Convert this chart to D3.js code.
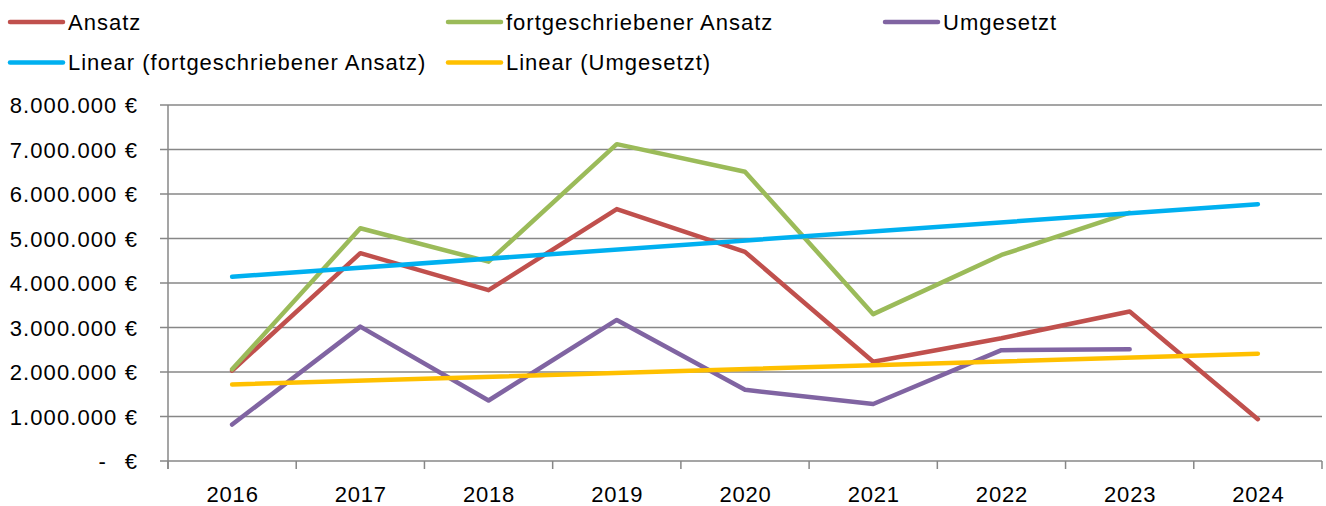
<!DOCTYPE html>
<html>
<head>
<meta charset="utf-8">
<script src="https://cdn.jsdelivr.net/npm/d3@7"></script>
<style>
  body { margin: 0; background: #fff; }
  text { font-family: "Liberation Sans", Arial, sans-serif; fill: #000; }
</style>
</head>
<body>
<svg id="chart"></svg>
<script>
const years = ['2016', '2017', '2018', '2019', '2020', '2021', '2022', '2023', '2024'];
const yTicks = [0, 1000000, 2000000, 3000000, 4000000, 5000000, 6000000, 7000000, 8000000];

const ansatz = [2030000, 4670000, 3840000, 5660000, 4700000, 2230000, 2760000, 3360000, 940000];
const fortgeschrieben = [2060000, 5230000, 4480000, 7120000, 6500000, 3300000, 4630000, 5580000, null];
const umgesetzt = [820000, 3020000, 1360000, 3170000, 1600000, 1280000, 2490000, 2510000, null];
// trendline end values (2016 and 2024)
const trendFort = [4140000, 5770000];
const trendUmg = [1720000, 2410000];

const series = [
    { name: 'Ansatz', color: '#C0504D', values: ansatz },
    { name: 'fortgeschriebener Ansatz', color: '#9BBB59', values: fortgeschrieben },
    { name: 'Umgesetzt', color: '#8064A2', values: umgesetzt }
];
const trends = [
    { name: 'Linear (fortgeschriebener Ansatz)', color: '#00B0F0', values: trendFort },
    { name: 'Linear (Umgesetzt)', color: '#FFC000', values: trendUmg }
];

const width = 1326, height = 506;
const plotLeft = 168, plotRight = 1322, plotTop = 105, plotBottom = 461;

const svg = d3.select('#chart')
    .attr('width', width)
    .attr('height', height);

const x = d3.scaleBand().domain(years).range([plotLeft, plotRight]);
const y = d3.scaleLinear().domain([0, 8000000]).range([plotBottom, plotTop]);
const cx = d => x(d) + x.bandwidth() / 2;

// gridlines + y ticks
svg.append('g')
    .selectAll('line')
    .data(yTicks)
    .enter()
    .append('line')
    .attr('x1', plotLeft - 8)
    .attr('x2', plotRight)
    .attr('y1', d => y(d))
    .attr('y2', d => y(d))
    .attr('stroke', '#878787')
    .attr('stroke-width', 1.5);

// y axis line
svg.append('line')
    .attr('x1', plotLeft).attr('x2', plotLeft)
    .attr('y1', plotTop).attr('y2', plotBottom + 8)
    .attr('stroke', '#878787')
    .attr('stroke-width', 1.5);

// x ticks
const xTickPos = years.map(d => x(d)).concat([plotRight]);
svg.append('g')
    .selectAll('line')
    .data(xTickPos)
    .enter()
    .append('line')
    .attr('x1', d => d).attr('x2', d => d)
    .attr('y1', plotBottom).attr('y2', plotBottom + 8)
    .attr('stroke', '#878787')
    .attr('stroke-width', 1.5);

// y labels
const fmt = d3.formatLocale({ decimal: ',', thousands: '.', grouping: [3], currency: ['', ' €'] }).format(',');
const yLabels = svg.append('g')
    .attr('font-size', '22px')
    .attr('letter-spacing', '1.1px')
    .attr('text-anchor', 'end');
yTicks.forEach(t => {
    if (t === 0) {
        yLabels.append('text').attr('x', 138).attr('y', y(t) + 8).text('€');
        yLabels.append('text').attr('x', 107).attr('y', y(t) + 8).text('-');
    } else {
        yLabels.append('text').attr('x', 138).attr('y', y(t) + 8).text(fmt(t) + ' €');
    }
});

// x labels
svg.append('g')
    .selectAll('text')
    .data(years)
    .enter()
    .append('text')
    .attr('x', d => cx(d) + 0.5)
    .attr('y', 502)
    .attr('font-size', '22px')
    .attr('letter-spacing', '0.8px')
    .attr('text-anchor', 'middle')
    .text(d => d);

// data lines
const line = d3.line()
    .defined(d => d.v != null)
    .x(d => cx(d.year))
    .y(d => y(d.v));

series.forEach(s => {
    svg.append('path')
        .datum(years.map((yr, i) => ({ year: yr, v: s.values[i] })))
        .attr('d', line)
        .attr('fill', 'none')
        .attr('stroke', s.color)
        .attr('stroke-width', 4.5)
        .attr('stroke-linejoin', 'round')
        .attr('stroke-linecap', 'round');
});

// trendlines
trends.forEach(t => {
    svg.append('path')
        .datum([{ year: years[0], v: t.values[0] }, { year: years[years.length - 1], v: t.values[1] }])
        .attr('d', line)
        .attr('fill', 'none')
        .attr('stroke', t.color)
        .attr('stroke-width', 4.5)
        .attr('stroke-linecap', 'round');
});

// legend
const legendItems = [
    { item: series[0], x: 9, y: 22 },
    { item: series[1], x: 447, y: 22 },
    { item: series[2], x: 884, y: 22 },
    { item: trends[0], x: 9, y: 62.5 },
    { item: trends[1], x: 447, y: 62.5 }
];
const legend = svg.append('g');
legendItems.forEach(l => {
    legend.append('line')
        .attr('x1', l.x + 1).attr('x2', l.x + 54)
        .attr('y1', l.y).attr('y2', l.y)
        .attr('stroke', l.item.color)
        .attr('stroke-width', 4.5)
        .attr('stroke-linecap', 'round');
    legend.append('text')
        .attr('x', l.x + 59)
        .attr('y', l.y + 7.8)
        .attr('font-size', '22px')
        .attr('letter-spacing', '1px')
        .text(l.item.name);
});
</script>
</body>
</html>
